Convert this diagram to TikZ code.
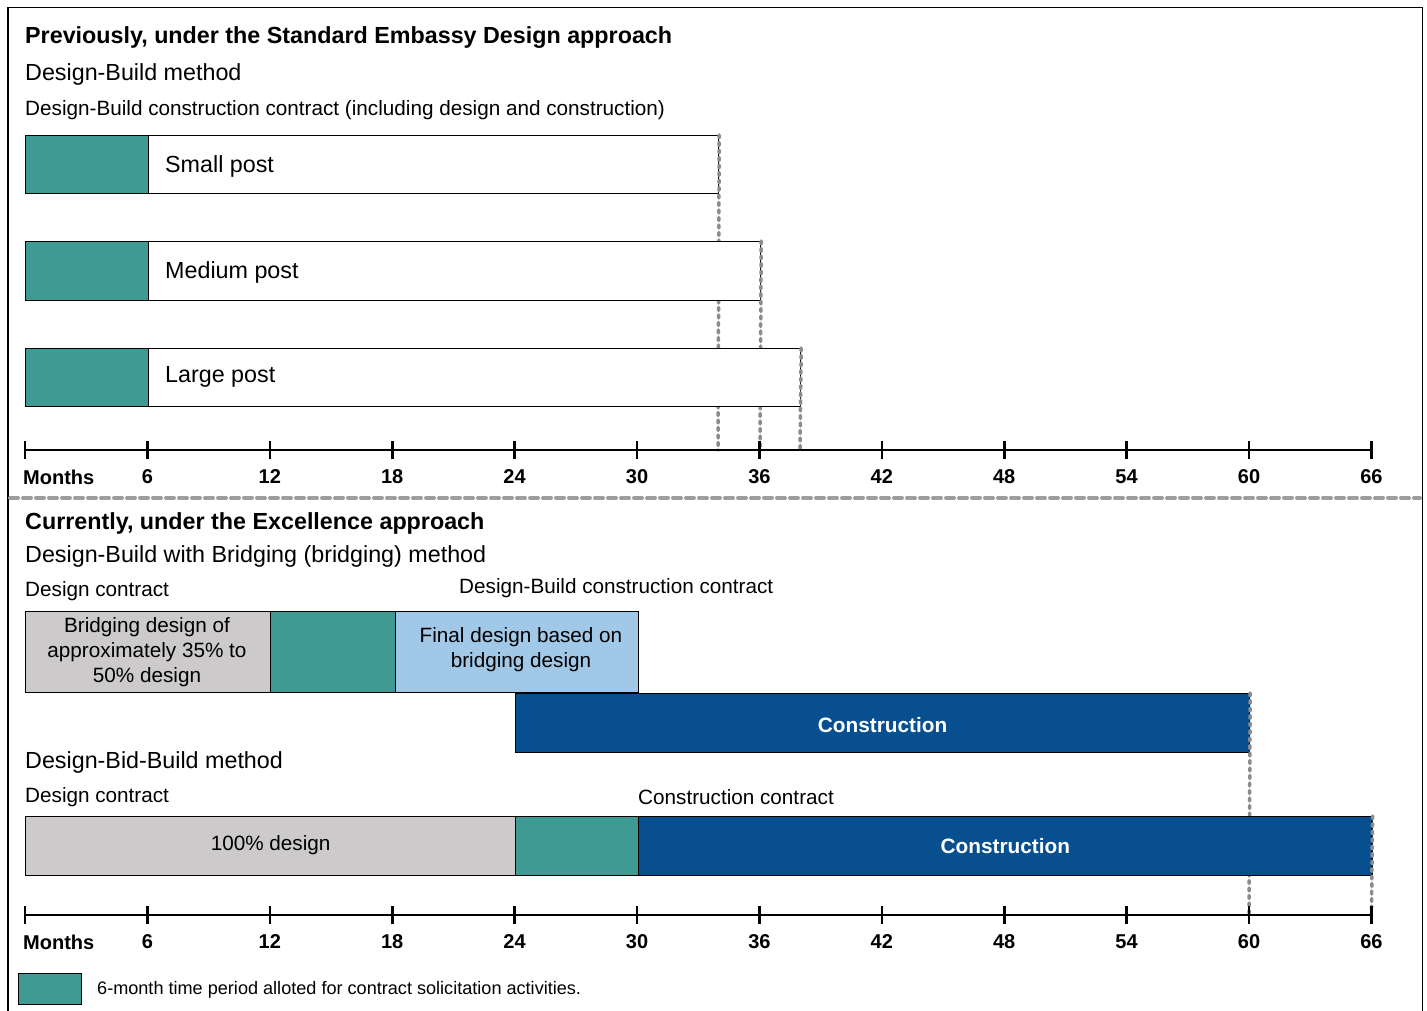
\documentclass[tikz,border=0pt]{standalone}
\usepackage{fontspec}
\setmainfont{Liberation Sans}
\definecolor{teal1}{RGB}{63,154,148}
\definecolor{dblue}{RGB}{8,79,143}
\definecolor{lblue}{RGB}{162,200,232}
\definecolor{lgray}{RGB}{204,202,203}
\definecolor{dotgray}{RGB}{140,140,140}
\begin{document}
\begin{tikzpicture}[x=1pt,y=-1pt,
  txt/.style={inner sep=0pt,anchor=west,font=\fontsize{20.7}{24}\selectfont},
  head/.style={inner sep=0pt,anchor=west,font=\fontsize{23.3}{27}\selectfont\bfseries},
  meth/.style={inner sep=0pt,anchor=west,font=\fontsize{23.3}{27}\selectfont},
  barbox/.style={draw=black,line width=1.2pt,inner sep=0pt,anchor=north west},
  postlbl/.style={inner sep=0pt,anchor=west,font=\fontsize{23.3}{27}\selectfont},
  inlbl/.style={inner sep=0pt,align=center,font=\fontsize{20.7}{25}\selectfont},
  conlbl/.style={inner sep=0pt,text=white,font=\fontsize{20.8}{24}\selectfont\bfseries},
  axislbl/.style={inner sep=0pt,font=\fontsize{20}{22}\selectfont\bfseries},
  dotline/.style={draw=dotgray,line width=3.5pt,dash pattern=on 3pt off 4.5pt,line cap=round},
  sepline/.style={draw=dotgray!85,line width=4pt,dash pattern=on 8pt off 5pt,line cap=round},
  axisline/.style={line width=2.6pt},
]
\useasboundingbox (0,0) rectangle (1427,1011);
\draw[line width=1.2pt] (8,1012) -- (8,7.5) -- (1422.5,7.5) -- (1422.5,1012);

% ---------- top section ----------
\node[head] (t1) at (25,38) {Previously, under the Standard Embassy Design approach};
\node[meth] (m1) at (25,74) {Design-Build method};
\node[txt] (c1) at (25,110) {Design-Build construction contract (including design and construction)};

\coordinate (ax1s) at (718,450);
\coordinate (ax1m) at (760,450);
\coordinate (ax1l) at (800,450);

\node[barbox,fill=white,minimum width=693,minimum height=58] (small) at (25,135) {};
\node[barbox,fill=teal1,minimum width=123,minimum height=58] (smallt) at (25,135) {};
\node[postlbl] (smalll) at (165,166) {Small post};
\draw[dotline] (small.north east) -- (ax1s);

\node[barbox,fill=white,minimum width=735,minimum height=59] (medium) at (25,241) {};
\node[barbox,fill=teal1,minimum width=123,minimum height=59] (mediumt) at (25,241) {};
\node[postlbl] (mediuml) at (165,272) {Medium post};
\draw[dotline] (medium.north east) -- (ax1m);

\node[barbox,fill=white,minimum width=775,minimum height=58] (large) at (25,348) {};
\node[barbox,fill=teal1,minimum width=123,minimum height=58] (larget) at (25,348) {};
\node[postlbl] (largel) at (165,377) {Large post};
\draw[dotline] (large.north east) -- (ax1l);

% axis 1
\draw[axisline] (25,450) -- (1371.4,450);
\foreach \m in {0,6,...,66} {
  \draw[axisline] ({25+20.4*\m},441) -- ({25+20.4*\m},459);
}
\node[axislbl,anchor=west] (mo1) at (23,477) {Months};
\foreach \m in {6,12,...,66} {
  \node[axislbl] (a1\m) at ({25+20.4*\m},477) {\m};
}

% separator
\draw[sepline] (10,498) -- (1420,498);

% ---------- bottom section ----------
\node[head] (t2) at (25,523) {Currently, under the Excellence approach};
\node[meth] (m2) at (25,556) {Design-Build with Bridging (bridging) method};
\node[txt] (dc1) at (25,591) {Design contract};
\node[txt] (dbc) at (459,588) {Design-Build construction contract};

\node[barbox,fill=lgray,minimum width=245,minimum height=81] (bridge) at (25,611) {};
\node[inlbl] (bridgel) at (147,652) {Bridging design of\\approximately 35\% to\\50\% design};
\node[barbox,fill=teal1,minimum width=125,minimum height=81] (bridget) at (270,611) {};
\node[barbox,fill=lblue,minimum width=243,minimum height=81] (final) at (395,611) {};
\node[inlbl] (finall) at (521,650) {Final design based on\\bridging design};

\node[barbox,fill=dblue,minimum width=734,minimum height=59] (cons1) at (515,693) {};
\node[conlbl] (cons1l) at ([yshift=-2pt]cons1.center) {Construction};

\coordinate (ax2a) at (1249,915);
\coordinate (ax2b) at (1371.4,915);
\draw[dotline] (cons1.north east) -- (ax2a);

\node[meth] (m3) at (25,762) {Design-Bid-Build method};
\node[txt] (dc2) at (25,797) {Design contract};
\node[txt] (cc2) at (638,797) {Construction contract};

\node[barbox,fill=lgray,minimum width=490,minimum height=59] (full) at (25,816) {};
\node[inlbl] (fulll) at ([yshift=1pt]full.center) {100\% design};
\node[barbox,fill=teal1,minimum width=123,minimum height=59] (fullt) at (515,816) {};
\node[barbox,fill=dblue,minimum width=733.4,minimum height=59] (cons2) at (638,816) {};
\node[conlbl] (cons2l) at (cons2.center) {Construction};
\draw[dotline] (cons2.north east) -- (ax2b);

% axis 2
\draw[axisline] (25,915) -- (1371.4,915);
\foreach \m in {0,6,...,66} {
  \draw[axisline] ({25+20.4*\m},906) -- ({25+20.4*\m},924);
}
\node[axislbl,anchor=west] (mo2) at (23,942) {Months};
\foreach \m in {6,12,...,66} {
  \node[axislbl] (a2\m) at ({25+20.4*\m},942) {\m};
}

% legend
\node[barbox,fill=teal1,minimum width=63,minimum height=31] (leg) at (18,973) {};
\node[inner sep=0pt,anchor=west,font=\fontsize{18.1}{21}\selectfont] (legl) at (97,990) {6-month time period alloted for contract solicitation activities.};
\end{tikzpicture}
\end{document}
